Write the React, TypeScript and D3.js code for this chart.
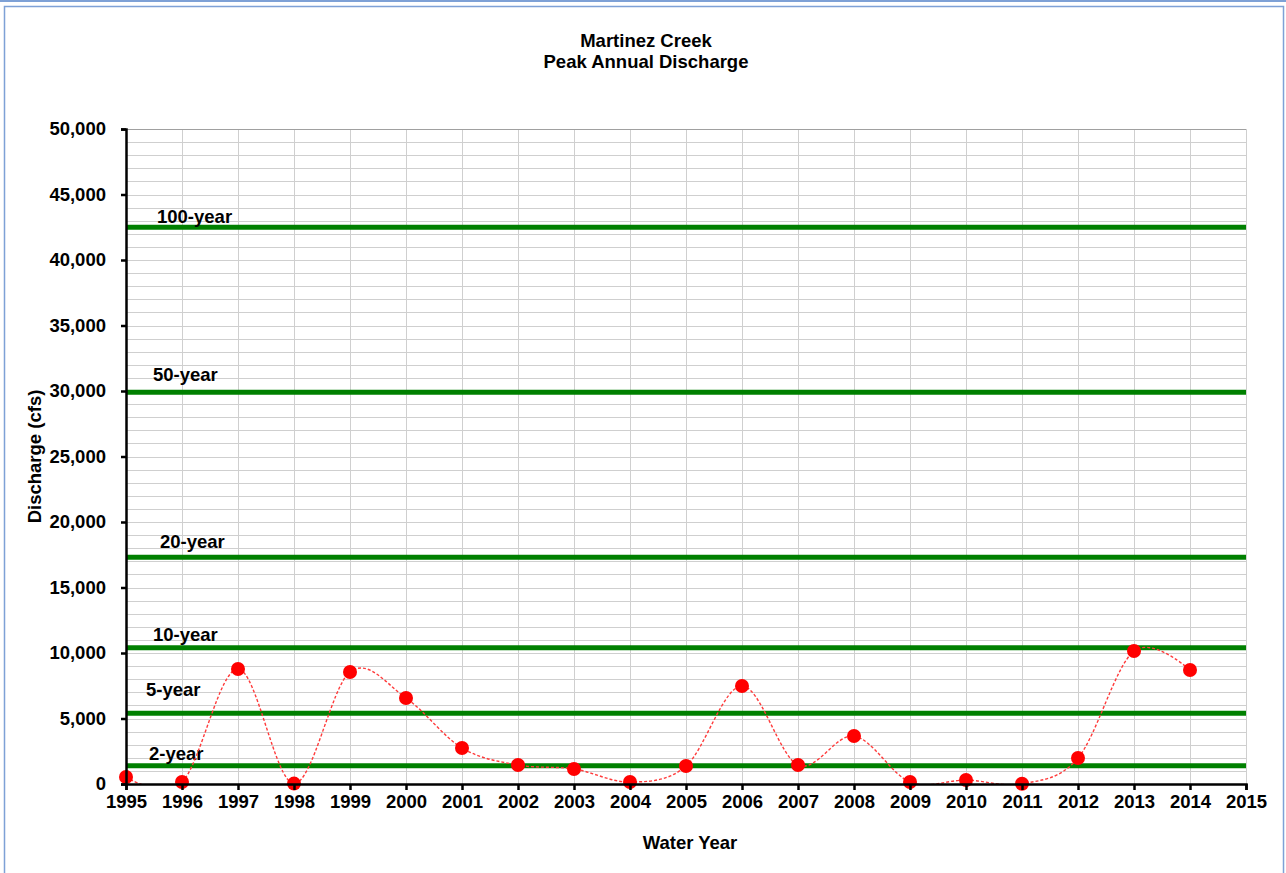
import React, { useRef, useEffect } from 'react';
import * as d3 from 'd3';

// Peak annual discharge (cfs) by water year
const years = [1995, 1996, 1997, 1998, 1999, 2000, 2001, 2002, 2003, 2004, 2005, 2006, 2007, 2008, 2009, 2010, 2011, 2012, 2013, 2014];
const discharge = [530, 150, 8780, 30, 8550, 6560, 2750, 1450, 1150, 150, 1370, 7480, 1450, 3660, 150, 300, 20, 1980, 10150, 8700];

// Return-period flood levels
const returnLabels = ['100-year', '50-year', '20-year', '10-year', '5-year', '2-year'];
const returnValues = [42500, 29900, 17300, 10400, 5400, 1400];
// label nudges in px [dx from axis, dy from line]
const labelNudge = [[31, -4], [27, -11], [34, -9], [27, -7], [20, -17], [23, -6]];

const yTicks = [0, 5000, 10000, 15000, 20000, 25000, 30000, 35000, 40000, 45000, 50000];
const xTicks = d3.range(1995, 2016);

const App: React.FC = () => {
  const svgRef = useRef<SVGSVGElement>(null);

  useEffect(() => {
    if (!svgRef.current) return;
    const width = 1286;
    const height = 873;
    const margin = { top: 129, right: 40, bottom: 89, left: 126 };
    const font = 'Arial, "Liberation Sans", sans-serif';
    const fs = '18.5px';

    const svg = d3.select(svgRef.current);
    svg.selectAll('*').remove();

    // Frame
    svg.append('line')
      .attr('x1', 0).attr('x2', width).attr('y1', 1).attr('y2', 1)
      .attr('stroke', '#7ea1d6').attr('stroke-width', 2);
    svg.append('rect')
      .attr('x', 4.5).attr('y', 6.5).attr('width', 1279).attr('height', 875)
      .attr('fill', '#fff').attr('stroke', '#7ea1d6').attr('stroke-width', 1.5);

    const x = d3.scaleLinear()
      .domain([1995, 2015])
      .range([margin.left, width - margin.right]);

    const y = d3.scaleLinear()
      .domain([0, 50000])
      .range([height - margin.bottom, margin.top]);

    svg.append('clipPath').attr('id', 'plot-clip')
      .append('rect')
      .attr('x', x(1995) - 10).attr('y', y(50000))
      .attr('width', x(2015) - x(1995) + 20).attr('height', y(0) - y(50000));

    // Minor horizontal grid every 1,000
    svg.append('g')
      .selectAll('line')
      .data(d3.range(1000, 50001, 1000))
      .join('line')
      .attr('x1', x(1995)).attr('x2', x(2015))
      .attr('y1', d => Math.round(y(d)) + 0.5).attr('y2', d => Math.round(y(d)) + 0.5)
      .attr('stroke', '#cfcfcf').attr('stroke-width', 1);

    // Vertical grid every year
    svg.append('g')
      .selectAll('line')
      .data(xTicks.slice(1))
      .join('line')
      .attr('x1', d => Math.round(x(d)) + 0.5).attr('x2', d => Math.round(x(d)) + 0.5)
      .attr('y1', y(50000)).attr('y2', y(0))
      .attr('stroke', '#cfcfcf').attr('stroke-width', 1);

    // Top border of plot
    svg.append('line')
      .attr('x1', x(1995)).attr('x2', x(2015))
      .attr('y1', y(50000) + 0.5).attr('y2', y(50000) + 0.5)
      .attr('stroke', '#a0a0a0');

    // Return-period lines
    returnValues.forEach((v, i) => {
      svg.append('line')
        .attr('x1', x(1995)).attr('x2', x(2015))
        .attr('y1', y(v)).attr('y2', y(v))
        .attr('stroke', '#008000').attr('stroke-width', 5);
      svg.append('text')
        .attr('x', x(1995) + labelNudge[i][0])
        .attr('y', y(v) + labelNudge[i][1])
        .attr('fill', '#000')
        .attr('font-family', font)
        .attr('font-size', fs)
        .attr('font-weight', 'bold')
        .text(returnLabels[i]);
    });

    // Smoothed dashed series line
    const line = d3.line<number>()
      .x((_, i) => x(years[i]))
      .y(d => y(d))
      .curve(d3.curveCardinal.tension(0));

    svg.append('path')
      .datum(discharge)
      .attr('d', line)
      .attr('clip-path', 'url(#plot-clip)')
      .attr('fill', 'none')
      .attr('stroke', '#ff3b3b')
      .attr('stroke-width', 1.4)
      .attr('stroke-dasharray', '3,2');

    svg.append('g')
      .selectAll('circle')
      .data(discharge)
      .join('circle')
      .attr('cx', (_, i) => x(years[i]))
      .attr('cy', d => y(d))
      .attr('r', 7)
      .attr('fill', '#ff0000');

    // Y axis
    svg.append('g')
      .attr('transform', `translate(${x(1995)}, 0)`)
      .call(d3.axisLeft(y).tickValues(yTicks).tickSize(5).tickPadding(15).tickFormat(d3.format(',')))
      .call(g => g.select('.domain').attr('stroke', '#000').attr('stroke-width', 2.5))
      .call(g => g.selectAll('.tick line').attr('stroke', '#000').attr('stroke-width', 2.5))
      .call(g => g.selectAll('.tick text')
        .attr('fill', '#000').attr('font-family', font).attr('font-size', fs).attr('font-weight', 'bold'));

    // X axis
    svg.append('g')
      .attr('transform', `translate(0, ${y(0)})`)
      .call(d3.axisBottom(x).tickValues(xTicks).tickSize(6).tickPadding(5).tickFormat(d3.format('d')))
      .call(g => g.select('.domain').attr('stroke', '#000').attr('stroke-width', 2.5))
      .call(g => g.selectAll('.tick line').attr('stroke', '#000').attr('stroke-width', 2.5))
      .call(g => g.selectAll('.tick text')
        .attr('fill', '#000').attr('font-family', font).attr('font-size', fs).attr('font-weight', 'bold'));

    // Titles
    const title = svg.append('text')
      .attr('x', 646)
      .attr('text-anchor', 'middle')
      .attr('font-family', font)
      .attr('font-size', fs)
      .attr('font-weight', 'bold')
      .attr('fill', '#000');
    title.append('tspan').attr('x', 646).attr('y', 47).text('Martinez Creek');
    title.append('tspan').attr('x', 646).attr('y', 68).text('Peak Annual Discharge');

    svg.append('text')
      .attr('x', 690)
      .attr('y', 849)
      .attr('text-anchor', 'middle')
      .attr('font-family', font)
      .attr('font-size', fs)
      .attr('font-weight', 'bold')
      .attr('fill', '#000')
      .text('Water Year');

    svg.append('text')
      .attr('transform', `translate(41, ${y(25000)}) rotate(-90)`)
      .attr('text-anchor', 'middle')
      .attr('font-family', font)
      .attr('font-size', fs)
      .attr('font-weight', 'bold')
      .attr('fill', '#000')
      .text('Discharge  (cfs)');
  }, []);

  return (
    <svg
      ref={svgRef}
      width={1286}
      height={873}
      style={{ position: 'absolute', left: 0, top: 0, display: 'block', background: '#fff' }}
    />
  );
};

export default App;
